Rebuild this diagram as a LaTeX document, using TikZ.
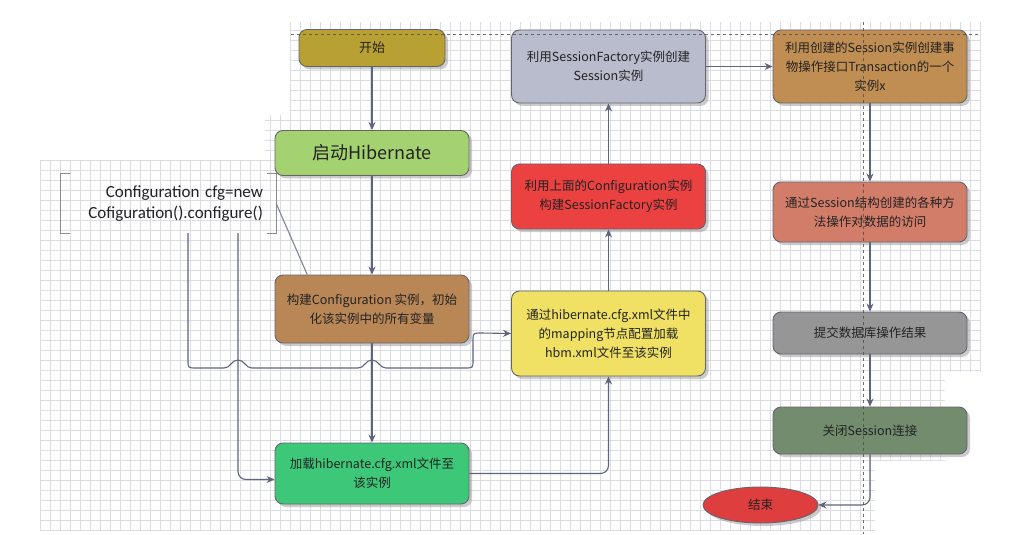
\documentclass[tikz,border=0pt]{standalone}
\usepackage{fontspec}
\setmainfont{Noto Sans CJK SC}
\newfontfamily\cfgfont{Carlito}
\usetikzlibrary{arrows.meta,shadows,shapes.geometric}
\definecolor{hbline}{RGB}{95,100,125}
\definecolor{hbedge}{RGB}{100,100,110}
\definecolor{hbgrid}{RGB}{220,220,228}
\definecolor{hbtext}{RGB}{35,35,35}
\definecolor{hbolive}{RGB}{185,160,50}
\definecolor{hblime}{RGB}{165,210,112}
\definecolor{hbbrown}{RGB}{185,135,85}
\definecolor{hbgreen}{RGB}{60,200,120}
\definecolor{hbyellow}{RGB}{240,225,100}
\definecolor{hbred}{RGB}{235,65,65}
\definecolor{hbsteel}{RGB}{185,188,205}
\definecolor{hbtan}{RGB}{192,142,82}
\definecolor{hbsalmon}{RGB}{210,125,105}
\definecolor{hbgray}{RGB}{150,150,150}
\definecolor{hbmoss}{RGB}{115,140,110}

\begin{document}
\begin{tikzpicture}[x=1pt, y=-1pt,
  box/.style={draw=hbedge, line width=0.9pt, rounded corners=8pt, minimum width=194pt,
    align=center, text=hbtext, font=\fontsize{12.5}{19}\selectfont,
    drop shadow={shadow xshift=3pt, shadow yshift=-3pt, fill=black!40, opacity=0.5}},
  link/.style={-{Stealth[length=8pt,width=7pt]}, line width=1.1pt, hbline},
  gridline/.style={hbgrid, line width=0.5pt, step=10pt},
  bracket/.style={line width=1.1pt, black!45}]
% Background and grid
\fill[white] (0,0) rectangle (1019,534);
\draw[gridline] (290,22) grid (980,372);
\draw[gridline] (265,115) grid (290,160);
\draw[gridline] (40,160) grid (290,530);
\draw[gridline] (290,372) grid (945,460);
\draw[gridline] (290,460) grid (875,530);

% Left column
\node[box, fill=hbolive, minimum width=146pt, minimum height=37pt, font=\fontsize{13}{16}\selectfont] (start) at (372,48) {开始};
\node[box, fill=hblime, minimum height=45pt, font=\fontsize{18}{22}\selectfont] (hib) at (372,153) {启动Hibernate};
\node[box, fill=hbbrown, minimum height=68pt] (build) at (372,309) {构建Configuration 实例，初始\\化该实例中的所有变量};
\node[box, fill=hbgreen, minimum height=61pt] (load) at (372,473.5) {加载hibernate.cfg.xml文件至\\该实例};

% Configuration code
\node[align=right, text width=189pt, inner xsep=13pt, minimum height=59pt, text=hbtext, font=\cfgfont\fontsize{17}{21}\selectfont] (cfg) at (168.5,203.5) {Configuration cfg=new\\Cofiguration().configure()};
\draw[bracket] ([xshift=9pt]cfg.north west) -| (cfg.south west) -- ++(9,0);
\draw[bracket] ([xshift=-9pt]cfg.north east) -| (cfg.south east) -- ++(-9,0);

% Middle column
\node[box, fill=hbyellow, minimum height=85pt] (map) at (608.5,333.5) {通过hibernate.cfg.xml文件中\\的mapping节点配置加载\\hbm.xml文件至该实例};
\node[box, fill=hbred, minimum height=65pt] (factory) at (608.5,196.5) {利用上面的Configuration实例\\构建SessionFactory实例};
\node[box, fill=hbsteel, minimum height=73pt] (session) at (608.5,66.5) {利用SessionFactory实例创建\\Session实例};

% Right column
\node[box, fill=hbtan, minimum height=73pt] (trans) at (870,66.5) {利用创建的Session实例创建事\\物操作接口Transaction的一个\\实例x};
\node[box, fill=hbsalmon, minimum height=60pt] (ops) at (870,212) {通过Session结构创建的各种方\\法操作对数据的访问};
\node[box, fill=hbgray, minimum height=42pt] (commit) at (870,333) {提交数据库操作结果};
\node[box, fill=hbmoss, minimum height=47pt] (close) at (870,430.5) {关闭Session连接};
\node[box, ellipse, fill=hbred!95!black, minimum width=115pt, minimum height=36pt] (end) at (760.5,505) {结束};

% Flow
\draw[link] (start) -- (hib);
\draw[link] (hib) -- (build);
\draw[link] (build) -- (load);
\draw[line width=1.1pt, hbline!80] (cfg.east) -- (build.152);
% line hopping over the two verticals
\draw[link] ([xshift=19.5pt]cfg.south) -- (188,360) .. controls (188,368) .. (196,368) -- (224,368)
  .. controls (231,368) and (231,360) .. (238,360) .. controls (245,360) and (245,368) .. (252,368)
  -- (358,368) .. controls (365,368) and (365,360) .. (372,360) .. controls (379,360) and (379,368) .. (386,368)
  -- (465,368) .. controls (473,368) .. (473,360) -- (473,341) .. controls (473,333) .. (481,333) -- (map.west);
\draw[link, rounded corners=8pt] ([xshift=69.5pt]cfg.south) |- ([yshift=-6pt]load.west);
\draw[link, rounded corners=8pt] (load.east) -| (map.south);
\draw[link] (map) -- (factory);
\draw[link] (factory) -- (session);
\draw[link] (session) -- (trans);
\draw[link] (trans) -- (ops);
\draw[link] (ops) -- (commit);
\draw[link] (commit) -- (close);
\draw[link, rounded corners=8pt] (close.south) |- (end.east);

% Guides
\draw[dashed, line width=1pt, black!70, opacity=0.8] (291,35) -- (980,35);
\draw[dashed, line width=1pt, black!70, opacity=0.8] (863,22) -- (863,534);
\end{tikzpicture}
\end{document}
